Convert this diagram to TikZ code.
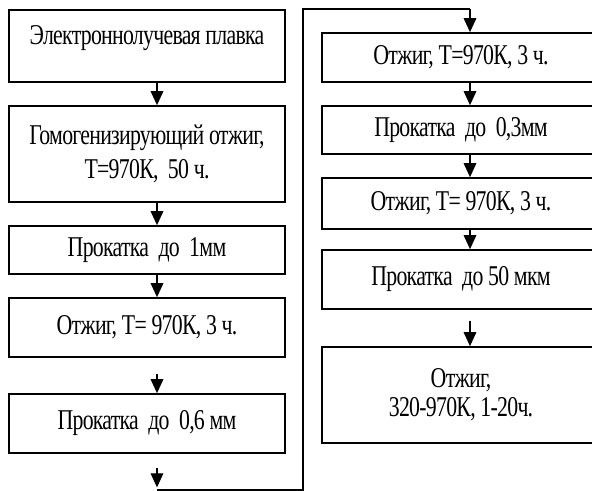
\documentclass[tikz,border=0pt]{standalone}
\usepackage{fontspec}
\setmainfont{Liberation Serif}[FakeStretch=0.76,LetterSpace=-2.5]
\usetikzlibrary{arrows.meta}
\tikzset{
  stage/.style={draw=black,line width=1.3pt,fill=white,inner sep=0pt,align=center,
                font=\fontsize{21.5}{25}\selectfont,minimum width=207pt},
  stageR/.style={stage,minimum width=208.5pt},
  flow/.style={-{Triangle[length=10.5pt,width=9.5pt]},line width=0.9pt},
  link/.style={line width=0.9pt},
}

\begin{document}
\begin{tikzpicture}[x=.75pt,y=-.75pt]
  \useasboundingbox (0,0) rectangle (592,491);
  \clip (0,0) rectangle (592,491);
  % arrows run down these two lines
  \coordinate (colL) at (157,0);
  \coordinate (colR) at (470,0);

  % --- left column ---
  \node[stage,minimum height=54pt,text depth=16pt] (L1) at (147,46) {Электроннолучевая плавка};
  \node[stage,minimum height=72pt] (L2) at (147,154)
    {Гомогенизирующий отжиг,\\[0pt] T=970К,\ \ 50 ч.};
  \node[stage,minimum height=36pt] (L3) at (147,250) {Прокатка\ \ до\ \ 1мм};
  \node[stage,minimum height=44.25pt] (L4) at (147,327.5) {Отжиг, T= 970К, 3 ч.};
  \node[stage,minimum height=44.25pt] (L5) at (147,423.5) {Прокатка\ \ до\ \ 0,6 мм};

  % --- right column ---
  \node[stageR,minimum height=36.75pt] (R1) at (461,57.5) {Отжиг, T=970К, 3 ч.};
  \node[stageR,minimum height=36pt] (R2) at (461,130) {Прокатка\ \ до\ \ 0,3мм};
  \node[stageR,minimum height=38.25pt] (R3) at (461,203.5) {Отжиг, T= 970К, 3 ч.};
  \node[stageR,minimum height=44.25pt] (R4) at (461,279.5) {Прокатка\ \ до 50 мкм};
  \node[stageR,minimum height=72pt] (R5) at (461,395) {Отжиг,\\[-3.5pt] 320-970К, 1-20ч.};

  % --- turn from the bottom of the left column to the top of the right one ---
  \coordinate (turnL) at (157,490);
  \coordinate (cornerB) at (303,490);
  \coordinate (cornerT) at (303,9);
  \coordinate (turnR) at (470,9);

  \draw[flow] (L1.south -| colL) -- (L2.north -| colL);
  \draw[flow] (L2.south -| colL) -- (L3.north -| colL);
  \draw[flow] (L3.south -| colL) -- (L4.north -| colL);
  \draw[flow,shorten <=12pt] (L4.south -| colL) -- (L5.north -| colL);
  \draw[flow,shorten <=10.5pt,shorten >=2pt] (L5.south -| colL) -- (turnL);
  \draw[link] (turnL) -- (cornerB) -- (cornerT) -- (turnR);
  \draw[flow] (turnR) -- (R1.north -| colR);
  \draw[flow] (R1.south -| colR) -- (R2.north -| colR);
  \draw[flow] (R2.south -| colR) -- (R3.north -| colR);
  \draw[flow] (R3.south -| colR) -- (R4.north -| colR);
  \draw[flow,shorten <=8pt] (R4.south -| colR) -- (R5.north -| colR);
\end{tikzpicture}
\end{document}
